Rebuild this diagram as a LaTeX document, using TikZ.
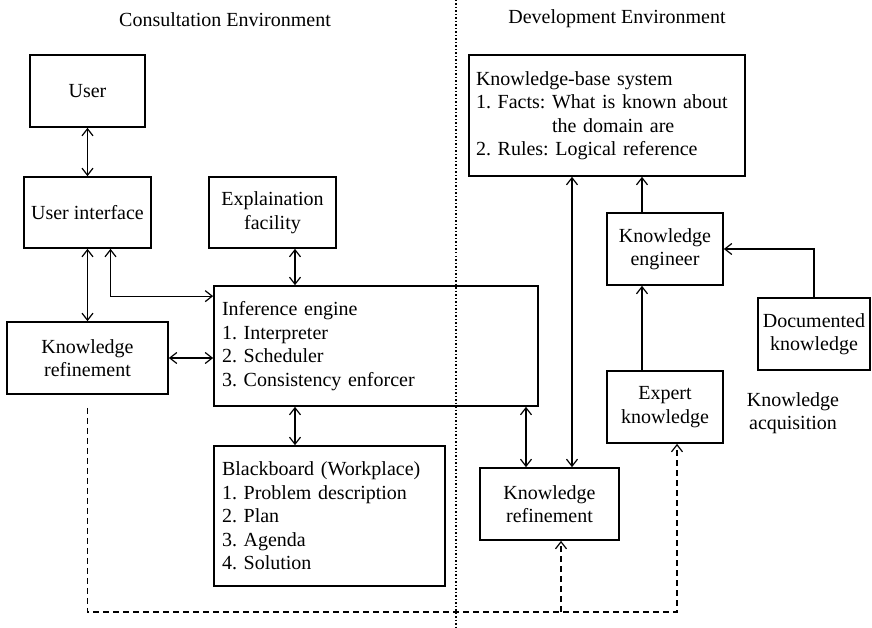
\documentclass[tikz,border=0pt]{standalone}
\usepackage{fontspec}
\setmainfont{Liberation Serif}
\usetikzlibrary{arrows.meta}
\frenchspacing
\begin{document}
\begin{tikzpicture}[x=1pt,y=-1pt,
  font=\fontsize{20}{23.5}\selectfont,
  box/.style={draw,line width=1.7pt,inner sep=0pt,align=center},
  listbox/.style={draw,line width=1.7pt,inner xsep=8pt,inner ysep=0pt,align=left},
  tip/.tip={Straight Barb[length=7pt,width=11pt]},
  link/.style={line width=1.2pt,tip-tip},
  onelink/.style={line width=1.2pt,-tip},
  dlink/.style={line width=1.2pt,dash pattern=on 6pt off 4pt,-tip},
  title/.style={inner sep=0pt}]
\useasboundingbox (0,0) rectangle (872,628);

% environment divider and headings
\coordinate (divtop) at (456,0);
\coordinate (divbot) at (456,628);
\draw[line width=1.5pt,dash pattern=on 1.5pt off 2pt] (divtop) -- (divbot);
\node[title] (consult) at (225,20) {Consultation Environment};
\node[title] (develop) at (617,19) {Development Environment};

% consultation side
\node[box,minimum width=115pt,minimum height=72pt] (user) at (87.5,91) {User};
\node[box,minimum width=127pt,minimum height=71pt] (ui) at (87.5,212.5) {User interface};
\node[box,minimum width=127pt,minimum height=71pt] (expl) at (272.5,212.5) {Explaination\\facility};
\node[listbox,minimum width=324pt,minimum height=120pt,text width=308pt] (inf) at (376,346)
  {Inference engine\\1. Interpreter\\2. Scheduler\\3. Consistency enforcer};
\node[box,minimum width=161pt,minimum height=72pt] (krl) at (87.5,358) {Knowledge\\refinement};
\node[listbox,minimum width=231pt,minimum height=140pt,text width=215pt] (bb) at (329.5,516)
  {Blackboard (Workplace)\\1. Problem description\\2. Plan\\3. Agenda\\4. Solution};

% development side
\node[listbox,inner xsep=7pt,minimum width=276pt,minimum height=121pt,text width=262pt] (kb) at (607,115.5)
  {Knowledge-base system\\1. Facts: What is known about\\\hphantom{1. Facts: }the domain are\\2. Rules: Logical reference};
\node[box,minimum width=116pt,minimum height=72pt] (ke) at (665,249) {Knowledge\\engineer};
\node[box,minimum width=112pt,minimum height=72pt] (doc) at (814,334) {Documented\\knowledge};
\node[box,minimum width=116pt,minimum height=72pt] (exp) at (665,407) {Expert\\knowledge};
\node[box,minimum width=139pt,minimum height=72pt] (krr) at (549.5,504) {Knowledge\\refinement};
\node[title,align=center] (acq) at (793,413) {Knowledge\\acquisition};

% vertical guide positions for connectors
\coordinate (xa) at (295,0);
\coordinate (xb) at (526,0);
\coordinate (xc) at (572,0);
\coordinate (xd) at (642,0);
\coordinate (xe) at (677,0);
\coordinate (xf) at (561,0);
\coordinate (bottom) at (0,612);

% consultation connectors
\draw[link] (user.south) -- (ui.north);
\draw[link] (ui.south) -- (krl.north);
\draw[link] ([xshift=23pt]ui.south) |- ([yshift=-11pt]inf.north west);
\draw[link] (krl.east) -- (krl.east -| inf.west);
\draw[link] (expl.south -| xa) -- (inf.north -| xa);
\draw[link] (inf.south -| xa) -- (bb.north -| xa);

% development connectors
\draw[link] (inf.south -| xb) -- (krr.north -| xb);
\draw[link] (kb.south -| xc) -- (krr.north -| xc);
\draw[onelink] (ke.north -| xd) -- (kb.south -| xd);
\draw[onelink] (exp.north -| xd) -- (ke.south -| xd);
\draw[onelink] (doc.north) |- (ke.east);

% refinement feedback loop
\draw[dlink] ([yshift=-13pt]krl.south) |- (bottom -| xe) -- (exp.south -| xe);
\draw[dlink] (bottom -| xf) -- (krr.south -| xf);
\end{tikzpicture}
\end{document}
